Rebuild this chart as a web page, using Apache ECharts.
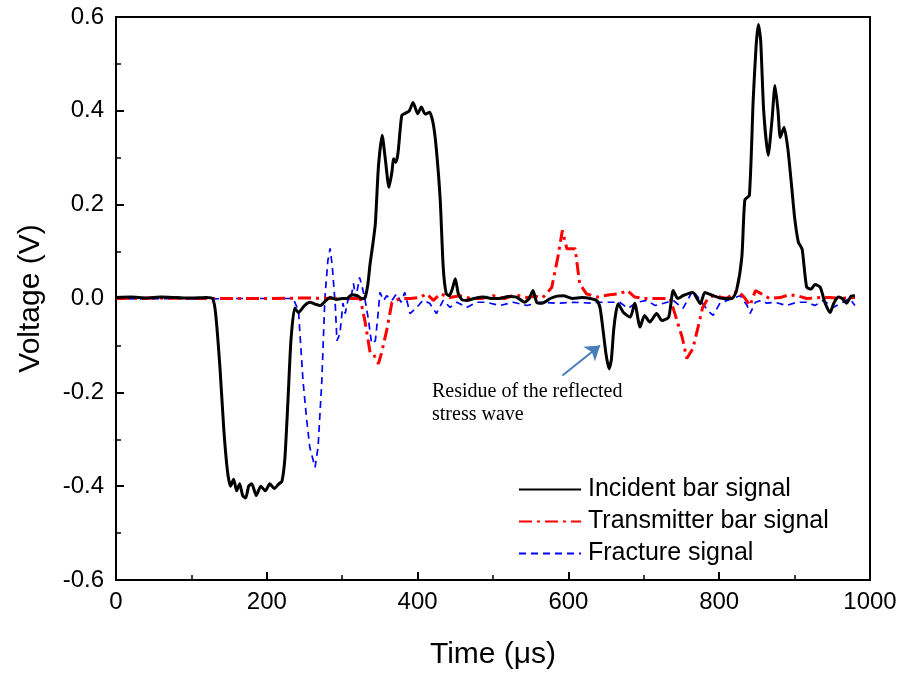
<!DOCTYPE html>
<html>
<head>
<meta charset="utf-8">
<script src="https://cdn.jsdelivr.net/npm/echarts@6/dist/echarts.min.js"></script>
<style>html,body{margin:0;padding:0;background:#fff;}#c{width:903px;height:675px;}</style>
</head>
<body>
<div id="c"></div>
<script>
// Time (µs) / Voltage (V) pairs
const incident = [[0,0.002],[20,0.003],[40,0.001],[60,0.003],[80,0.002],[100,0.001],[120,0.002],[128,0.0],[132,-0.03],[138,-0.15],[143,-0.28],[148,-0.37],[152,-0.40],[156,-0.385],[160,-0.41],[164,-0.395],[168,-0.42],[172,-0.425],[176,-0.40],[180,-0.395],[186,-0.42],[192,-0.40],[198,-0.41],[204,-0.395],[210,-0.405],[216,-0.395],[220,-0.39],[224,-0.34],[228,-0.22],[232,-0.09],[237,-0.02],[242,-0.03],[250,-0.015],[257,-0.008],[264,-0.012],[271,-0.015],[278,-0.005],[284,0.002],[292,-0.002],[300,0.0],[306,0.0],[313,0.008],[320,0.006],[326,0.0],[330,0.001],[334,0.03],[337,0.074],[341,0.12],[344,0.16],[348,0.28],[353,0.348],[357,0.30],[362,0.237],[366,0.27],[368,0.298],[371,0.29],[374,0.31],[379,0.39],[384,0.395],[389,0.40],[394,0.418],[400,0.394],[405,0.408],[410,0.393],[416,0.397],[421,0.37],[425,0.316],[430,0.21],[434,0.066],[438,0.01],[442,0.006],[446,0.02],[450,0.042],[454,0.01],[459,-0.003],[465,-0.004],[475,0.0],[487,0.003],[498,0.0],[509,0.0],[520,0.004],[531,0.003],[542,-0.008],[548,0.0],[553,0.017],[558,-0.008],[565,-0.01],[576,0.0],[585,0.005],[593,0.006],[606,0.0],[618,0.002],[629,0.0],[638,-0.005],[642,-0.02],[646,-0.068],[650,-0.12],[654,-0.15],[657,-0.13],[660,-0.068],[663,-0.03],[666,-0.011],[673,-0.03],[682,-0.04],[688,-0.01],[695,-0.061],[701,-0.036],[708,-0.05],[717,-0.032],[724,-0.047],[733,-0.04],[739,0.017],[745,0.0],[752,0.006],[758,0.01],[765,0.013],[775,-0.011],[781,0.013],[792,0.006],[805,0.0],[817,0.0],[823,0.017],[830,0.088],[834,0.21],[840,0.22],[845,0.42],[849,0.54],[852,0.584],[855,0.55],[859,0.40],[865,0.305],[870,0.38],[874,0.454],[878,0.40],[881,0.343],[886,0.365],[891,0.32],[896,0.24],[900,0.173],[905,0.12],[910,0.105],[916,0.024],[922,0.02],[927,0.03],[934,0.024],[940,-0.008],[947,-0.03],[952,-0.01],[958,0.003],[963,0.0],[969,-0.01],[975,0.005],[980,0.006]];

const transmitter = [[0,0.0],[50,0.001],[100,0.0],[150,0.0],[200,0.0],[250,0.001],[300,0.0],[324,0.0],[330,-0.047],[337,-0.115],[341,-0.117],[348,-0.139],[352,-0.117],[359,-0.068],[366,-0.008],[377,0.0],[390,0.0],[403,0.002],[412,0.01],[421,-0.004],[430,0.01],[443,0.002],[456,0.006],[470,0.0],[485,0.0],[500,0.006],[515,0.0],[530,0.008],[545,0.002],[556,0.005],[566,0.002],[572,0.012],[578,0.024],[586,0.088],[592,0.145],[598,0.106],[609,0.106],[615,0.031],[624,0.01],[638,0.003],[655,0.008],[668,0.01],[678,0.017],[688,0.003],[700,0.0],[712,0.0],[724,0.0],[735,0.0],[744,-0.047],[751,-0.083],[757,-0.128],[765,-0.107],[772,-0.061],[778,-0.019],[785,0.0],[792,0.006],[810,0.0],[824,0.017],[833,0.003],[841,-0.015],[848,0.017],[856,0.01],[867,0.0],[881,0.002],[893,0.008],[903,0.006],[916,0.0],[934,0.002],[947,0.002],[960,0.0],[980,0.002]];

const fracture = [[0,0],[40,-0.001],[80,0],[120,-0.001],[160,0],[200,0],[223,0],[235,0],[242,-0.026],[248,-0.175],[253,-0.26],[257,-0.317],[264,-0.36],[268,-0.317],[273,-0.175],[277,0.0],[281,0.081],[284,0.107],[287,0.066],[291,-0.019],[293,-0.09],[297,-0.075],[301,-0.01],[304,-0.032],[308,0.0],[311,-0.004],[315,0.032],[318,0.0],[323,0.045],[326,0.028],[330,0.0],[335,-0.047],[339,-0.096],[344,-0.09],[348,-0.026],[350,0.013],[355,-0.004],[359,0.006],[366,-0.004],[372,0.01],[378,-0.008],[383,0.013],[390,-0.032],[399,-0.019],[407,-0.004],[416,-0.01],[425,-0.032],[434,-0.004],[443,-0.019],[452,-0.008],[465,-0.019],[478,-0.008],[491,-0.008],[509,-0.015],[527,-0.008],[545,-0.015],[562,-0.008],[585,-0.01],[606,-0.008],[633,-0.01],[639,-0.008],[668,-0.008],[679,-0.021],[691,-0.008],[704,-0.004],[715,-0.015],[731,-0.008],[739,-0.004],[752,-0.021],[765,0.017],[775,-0.004],[785,-0.026],[792,-0.036],[801,-0.01],[817,0.0],[828,0.006],[837,-0.015],[841,-0.032],[848,-0.008],[856,-0.004],[863,-0.01],[874,-0.008],[889,-0.015],[903,-0.008],[916,-0.008],[927,-0.015],[938,-0.004],[951,-0.019],[964,-0.008],[973,0.0],[980,-0.015]];

const seriesNames = ['Incident bar signal', 'Transmitter bar signal', 'Fracture signal'];
const arrowFrom = [592, -0.164];
const arrowTo = [642, -0.1];
const noteText = 'Residue of the reflected\nstress wave';

const FONT = '"Liberation Sans", Arial, sans-serif';
const chart = echarts.init(document.getElementById('c'), null, {renderer: 'canvas'});
chart.setOption({
  animation: false,
  backgroundColor: '#fff',
  grid: {left: 116, right: 33, top: 17, bottom: 95, show: true, borderColor: '#000', borderWidth: 2, backgroundColor: 'transparent'},
  xAxis: {
    type: 'value', min: 0, max: 1000, interval: 200,
    name: 'Time (μs)', nameLocation: 'middle', nameGap: 60,
    nameTextStyle: {fontFamily: FONT, fontSize: 30, color: '#000'},
    axisLine: {show: true, onZero: false, lineStyle: {color: '#000', width: 2}},
    axisTick: {show: true, inside: true, length: 8, lineStyle: {color: '#000', width: 2}},
    minorTick: {show: true, splitNumber: 2, length: 5, lineStyle: {color: '#000', width: 1.5}},
    splitLine: {show: false},
    axisLabel: {fontFamily: FONT, fontSize: 24, color: '#000', margin: 10, formatter: v => String(v)}
  },
  yAxis: {
    type: 'value', min: -0.6, max: 0.6, interval: 0.2,
    name: 'Voltage (V)', nameLocation: 'middle', nameGap: 70,
    nameTextStyle: {fontFamily: FONT, fontSize: 30, color: '#000'},
    axisLine: {show: true, onZero: false, lineStyle: {color: '#000', width: 2}},
    axisTick: {show: true, inside: true, length: 8, lineStyle: {color: '#000', width: 2}},
    minorTick: {show: true, splitNumber: 2, length: 5, lineStyle: {color: '#000', width: 1.5}},
    splitLine: {show: false},
    axisLabel: {fontFamily: FONT, fontSize: 24, color: '#000', margin: 12,
      formatter: v => (Math.abs(v) < 1e-9 ? 0 : v).toFixed(1)}
  },
  legend: {
    orient: 'vertical', left: 513, top: 472, itemWidth: 62, itemHeight: 14, itemGap: 7,
    data: seriesNames,
    itemStyle: {opacity: 0},
    textStyle: {fontFamily: FONT, fontSize: 25, color: '#000', padding: [0, 0, 0, 2]}
  },
  series: [
    {name: seriesNames[0], type: 'line', data: incident, symbol: 'none', smooth: 0.2, z: 4,
     lineStyle: {color: '#000', width: 3}, itemStyle: {color: '#000'},
     markLine: {silent: true, symbol: ['none', 'arrow'], symbolSize: 14,
       lineStyle: {color: '#4a7ebb', width: 2, type: 'solid'}, label: {show: false},
       data: [[{coord: arrowFrom}, {coord: arrowTo}]]}},
    {name: seriesNames[1], type: 'line', data: transmitter, symbol: 'none', z: 3,
     lineStyle: {color: '#ff0000', width: 3, type: [13, 5, 3, 5]}, itemStyle: {color: '#ff0000'}},
    {name: seriesNames[2], type: 'line', data: fracture, symbol: 'none', z: 2,
     lineStyle: {color: '#0000ff', width: 1.7, type: [7, 5]}, itemStyle: {color: '#0000ff'}}
  ],
  graphic: [{
    type: 'text', left: 432, top: 380,
    style: {text: noteText, font: '20px "Liberation Serif", "Times New Roman", serif', fill: '#000', lineHeight: 23}
  }]
});
</script>
</body>
</html>
